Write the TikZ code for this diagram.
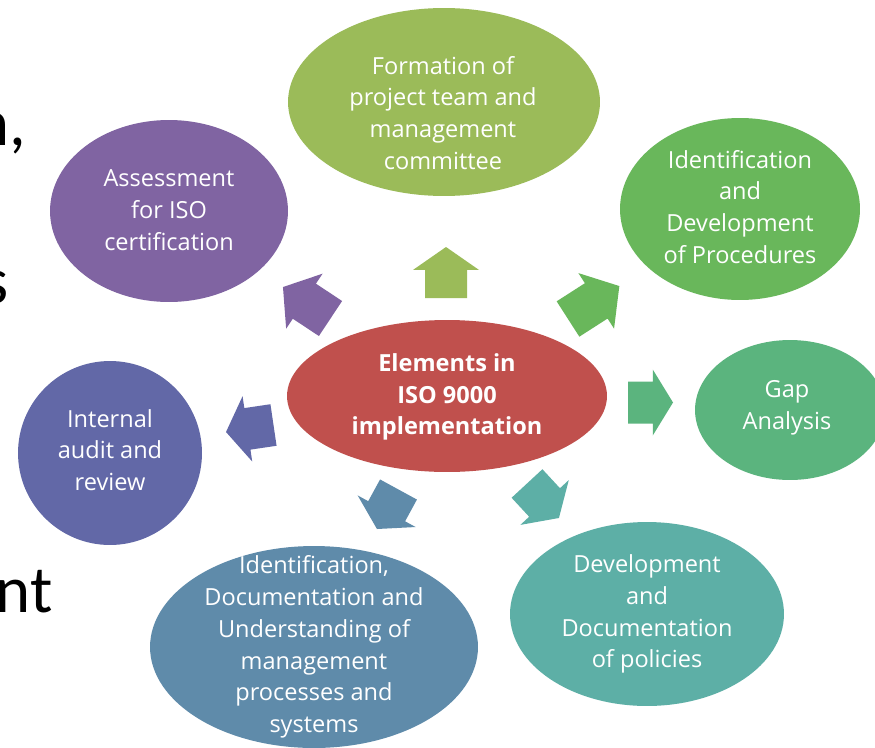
\documentclass[tikz,border=0pt]{standalone}
\usepackage{fontspec}
\setmainfont{Open Sans}
\newfontfamily\slidefont{Carlito}
\usetikzlibrary{shapes.geometric}
\definecolor{cRed}{HTML}{C0504D}
\definecolor{cOlive}{HTML}{9BBB59}
\definecolor{cPurple}{HTML}{8064A2}
\definecolor{cGreen}{HTML}{69B75B}
\definecolor{cGap}{HTML}{5BB47E}
\definecolor{cTeal}{HTML}{5DAFA6}
\definecolor{cSteel}{HTML}{5F8BAA}
\definecolor{cIndigo}{HTML}{6268A7}
\tikzset{
  ell/.style={ellipse, draw=none, inner sep=0pt},
  lbl/.style={text=white, align=center, font=\fontsize{13.4pt}{18.1pt}\selectfont},
  bold lbl/.style={lbl, font=\fontsize{13.4pt}{18.1pt}\selectfont\bfseries},
  slide/.style={text=black, inner sep=0pt, anchor=base east, font=\slidefont\fontsize{38pt}{40pt}\selectfont}
}
% block arrow: base centre x, y, angle, length, colour
\newcommand\blockarrow[5]{%
  \begin{scope}[shift={(#1,#2)}, rotate=#3]
    \fill[#5] (0,-21) -- ({#4*0.55},-21) -- ({#4*0.55},-33) -- (#4,0)
      -- ({#4*0.55},33) -- ({#4*0.55},21) -- (0,21) -- cycle;
  \end{scope}}
\begin{document}
\begin{tikzpicture}[x=0.02cm, y=0.02cm]
\useasboundingbox (0,0) rectangle (875,-747);
\fill[white] (0,0) rectangle (875,-747);

% cut-off slide text on the left
\node[slide] (s1) at (27,-145) {n,};
\node[slide] (s2) at (9,-303) {s};
\node[slide] (s3) at (53,-612) {nt};

% ellipses
\node[ell, fill=cOlive, minimum width=6.24cm, minimum height=3.76cm] (formation) at (444,-102) {};
\node[lbl] (formationtxt) at (443,-113) {Formation of\\project team and\\management\\committee};

\node[ell, fill=cPurple, minimum width=4.76cm, minimum height=3.64cm] (assess) at (169,-211) {};
\node[lbl] (assesstxt) at (169,-210) {Assessment\\for ISO\\certification};

\node[ell, fill=cGreen, minimum width=4.80cm, minimum height=3.64cm] (proc) at (740,-209) {};
\node[lbl] (proctxt) at (740,-207) {Identification\\and\\Development\\of Procedures};

\node[ell, fill=cGap, minimum width=3.80cm, minimum height=2.80cm] (gap) at (790,-410) {};
\node[lbl] (gaptxt) at (787,-408) {Gap\\Analysis};

\node[ell, fill=cIndigo, minimum width=3.68cm, minimum height=3.68cm] (audit) at (110,-453) {};
\node[lbl] (audittxt) at (110,-450) {Internal\\audit and\\review};

\node[ell, fill=cSteel, minimum width=6.56cm, minimum height=4.04cm] (mgmt) at (314,-647) {};
\node[lbl] (mgmttxt) at (314,-647) {Identification,\\Documentation and\\Understanding of\\management\\processes and\\systems};

\node[ell, fill=cTeal, minimum width=5.48cm, minimum height=3.68cm] (policy) at (647,-614) {};
\node[lbl] (policytxt) at (647,-614) {Development\\and\\Documentation\\of policies};

\node[ell, fill=cRed, minimum width=6.40cm, minimum height=3.04cm] (center) at (447,-396) {};
\node[bold lbl] (centertxt) at (447,-397) {Elements in\\ISO 9000\\implementation};

% block arrows
\blockarrow{446}{-298}{90}{51}{cOlive}
\blockarrow{330.5}{-318.5}{146.5}{57}{cPurple}
\blockarrow{568}{-319}{32.7}{61}{cGreen}
\blockarrow{628}{-402.5}{0}{45}{cGap}
\blockarrow{273.5}{-425}{188.4}{48}{cIndigo}
\blockarrow{398.5}{-489.5}{241.4}{45}{cSteel}
\blockarrow{527}{-483.5}{-47.2}{47}{cTeal}
\end{tikzpicture}
\end{document}
